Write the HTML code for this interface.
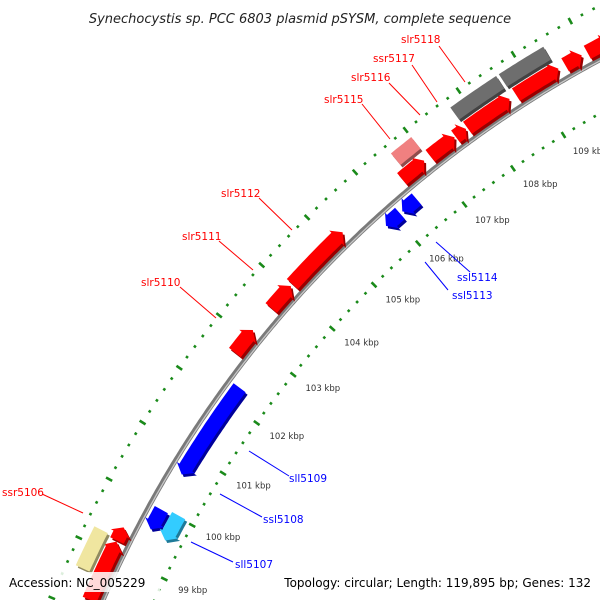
<!DOCTYPE html>
<html><head><meta charset="utf-8"><style>
html,body{margin:0;padding:0;background:#fff;overflow:hidden;width:600px;height:600px;}
svg{display:block;overflow:hidden;font-family:"DejaVu Sans","Liberation Sans",sans-serif;}
</style></head><body>
<svg id="map" width="600" height="600" viewBox="0 0 600 600" xmlns="http://www.w3.org/2000/svg">
<text x="300" y="23" text-anchor="middle" font-size="13" font-style="italic" fill="#222">Synechocystis sp. PCC 6803 plasmid pSYSM, complete sequence</text>
<g id="rings"></g><g id="genes"></g><g id="labels"></g>
<g id="gene-labels" font-size="10.5">
<line x1="42" y1="494" x2="83" y2="513" stroke="#ff0000"/>
<text x="2" y="496" fill="#ff0000">ssr5106</text>
<line x1="180" y1="287" x2="216" y2="318" stroke="#ff0000"/>
<text x="141" y="286" fill="#ff0000">slr5110</text>
<line x1="219" y1="241" x2="253" y2="270" stroke="#ff0000"/>
<text x="182" y="240" fill="#ff0000">slr5111</text>
<line x1="259" y1="198" x2="292" y2="230" stroke="#ff0000"/>
<text x="221" y="197" fill="#ff0000">slr5112</text>
<line x1="362" y1="104" x2="390" y2="139" stroke="#ff0000"/>
<text x="324" y="103" fill="#ff0000">slr5115</text>
<line x1="389" y1="83" x2="420" y2="115" stroke="#ff0000"/>
<text x="351" y="81" fill="#ff0000">slr5116</text>
<line x1="412" y1="65" x2="437" y2="102" stroke="#ff0000"/>
<text x="373" y="62" fill="#ff0000">ssr5117</text>
<line x1="439" y1="46" x2="465" y2="82" stroke="#ff0000"/>
<text x="401" y="43" fill="#ff0000">slr5118</text>
<line x1="436" y1="242" x2="470" y2="272" stroke="#0000ff"/>
<text x="457" y="281" fill="#0000ff">ssl5114</text>
<line x1="425" y1="262" x2="448" y2="290" stroke="#0000ff"/>
<text x="452" y="299" fill="#0000ff">ssl5113</text>
<line x1="249" y1="451" x2="289" y2="476" stroke="#0000ff"/>
<text x="289" y="482" fill="#0000ff">sll5109</text>
<line x1="220" y1="494" x2="262" y2="517" stroke="#0000ff"/>
<text x="263" y="523" fill="#0000ff">ssl5108</text>
<line x1="191" y1="542" x2="233" y2="562" stroke="#0000ff"/>
<text x="235" y="568" fill="#0000ff">sll5107</text>
</g>
<rect x="0" y="572" width="160" height="20" fill="#fff" opacity="0.85"/>
<text x="9" y="587" font-size="12" fill="#000">Accession: NC_005229</text>
<rect x="282" y="572" width="318" height="20" fill="#fff" opacity="0.85"/>
<text x="591" y="587" text-anchor="end" font-size="12" fill="#000">Topology: circular; Length: 119,895 bp; Genes: 132</text>
</svg>
<script>
const tickKbp = [99,100,101,102,103,104,105,106,107,108,109,110];
const tickLabels = ["99 kbp","100 kbp","101 kbp","102 kbp","103 kbp","104 kbp","105 kbp","106 kbp","107 kbp","108 kbp","109 kbp",""];
const geneStart = [98.2,99.22,98.6,99.62,99.57,100.63,102.7,103.6,104.1,105.8,106.15,106.48,106.6,107.05,107.55,107.78,107.75,108.7,108.65,109.6,110.0];
const geneEnd   = [99.2,99.45,99.26,99.98,100.03,102.3,103.15,104.06,105.23,106.1,106.45,106.93,107.0,107.53,107.75,108.58,108.6,109.48,109.45,109.9,110.4];
const geneStrand= [1,1,0,-1,-1,-1,1,1,1,-1,-1,1,0,1,1,1,0,1,0,1,1];
const geneBand  = ["fwd","fwd","out","rev","in","rev","fwd","fwd","fwd","rev","rev","fwd","out","fwd","fwd","fwd","out","fwd","out","fwd","fwd"];
const geneColor = ["#ff0000","#ff0000","#f0e6a0","#0000ff","#33ccff","#0000ff","#ff0000","#ff0000","#ff0000","#0000ff","#0000ff","#ff0000","#f08080","#ff0000","#ff0000","#ff0000","#6e6e6e","#ff0000","#6e6e6e","#ff0000","#ff0000"];

const CX=1128, CY=1044, DEG_PER_KBP=3.24, A0=-151;
const NS="http://www.w3.org/2000/svg";
function ang(k){return (A0+(k-100)*DEG_PER_KBP)*Math.PI/180;}
function pt(k,r){const a=ang(k);return [CX+r*Math.cos(a),CY+r*Math.sin(a)];}
function mk(t,attrs,parent){const e=document.createElementNS(NS,t);for(const k in attrs)e.setAttribute(k,attrs[k]);parent.appendChild(e);return e;}
const rings=document.getElementById('rings'),genesG=document.getElementById('genes'),labelsG=document.getElementById('labels');

function arcPath(r,k1,k2){let d="";for(let k=k1;k<=k2;k+=0.05){const p=pt(k,r);d+=(d?"L":"M")+p[0].toFixed(1)+","+p[1].toFixed(1);}return d;}
const bb=mk('path',{d:arcPath(1117,97,112),stroke:"#7a7a7a","stroke-width":5,fill:"none"},rings);


const bbh=mk('path',{d:arcPath(1116,97,112),stroke:"#c8c8c8","stroke-width":1.3,fill:"none"},rings);



[1070,1165].forEach((r)=>{
  for(let i=Math.round(97*5);i<=Math.round(112*5);i++){
    const k=i/5; const major=(i%5===0);
    const a=ang(k); const p=pt(k,r);
    if(p[0]<-5||p[0]>605||p[1]<-5||p[1]>605) continue;
    const len=major?7:2.6, w=2.6;
    const el=mk('rect',{x:(-len/2).toFixed(1),y:(-w/2).toFixed(1),width:len,height:w,fill:"#1a8a1a",transform:`translate(${p[0].toFixed(1)},${p[1].toFixed(1)}) rotate(${(a*180/Math.PI).toFixed(2)})`},rings);
    
    
  }
});
tickKbp.forEach((k,i)=>{
  const p=pt(k,1058);
  const t=mk('text',{x:(p[0]+3).toFixed(1),y:(p[1]+9).toFixed(1),"font-size":"8.5",fill:"#333"},labelsG);
  t.textContent=tickLabels[i];
  
  
});

const bands={fwd:[1122,1137],out:[1141,1156],rev:[1097,1112],in:[1079,1094]};
function darker(c){const n=parseInt(c.slice(1),16);const r=(n>>16)&255,g=(n>>8)&255,b=n&255;return `rgb(${r*0.6|0},${g*0.6|0},${b*0.6|0})`;}
function genePath(s,e,st,r1,r2){
  const headKbp=Math.min(0.13,(e-s)*0.5);
  const pts=[];const rm=(r1+r2)/2;
  let a=s,b=e;
  if(st===1){b=e-headKbp;}else if(st===-1){a=s+headKbp;}
  for(let k=a;k<=b+1e-6;k+=0.05)pts.push(pt(Math.min(k,b),r2));
  pts.push(pt(b,r2));
  if(st===1){pts.push(pt(b,r2+3));pts.push(pt(e,rm));pts.push(pt(b,r1-3));}
  pts.push(pt(b,r1));
  for(let k=b;k>=a-1e-6;k-=0.05)pts.push(pt(Math.max(k,a),r1));
  pts.push(pt(a,r1));
  if(st===-1){pts.push(pt(a,r1-3));pts.push(pt(s,rm));pts.push(pt(a,r2+3));}
  return pts.map(p=>p[0].toFixed(1)+","+p[1].toFixed(1)).join(" ");
}
geneStart.forEach((s,i)=>{
  const [r1,r2]=bands[geneBand[i]];
  const g=mk('g',{},genesG);
  
  
  const pp=genePath(s,geneEnd[i],geneStrand[i],r1,r2);
  mk('polygon',{points:pp,fill:darker(geneColor[i]),transform:"translate(2,2.5)"},g);
  mk('polygon',{points:pp,fill:geneColor[i]},g);
});
</script>
</body></html>
